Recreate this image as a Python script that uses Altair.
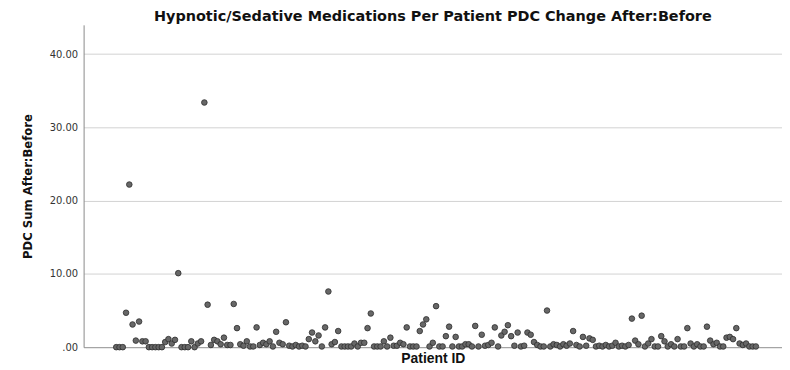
import altair as alt
import pandas as pd

# PDC Sum After:Before per patient, in patient order
pdc_values = [
    0.0, 0.0, 0.0, 4.7, 22.2, 3.1, 0.9, 3.5, 0.8, 0.8,
    0.0, 0.0, 0.0, 0.0, 0.0, 0.7, 1.1, 0.5, 1.0, 10.1,
    0.0, 0.0, 0.0, 0.8, 0.0, 0.5, 0.8, 33.4, 5.8, 0.3,
    1.0, 0.8, 0.4, 1.3, 0.3, 0.3, 5.9, 2.6, 0.4, 0.2,
    0.8, 0.1, 0.1, 2.7, 0.3, 0.6, 0.4, 0.8, 0.1, 2.1,
    0.6, 0.4, 3.4, 0.2, 0.1, 0.3, 0.1, 0.2, 0.1, 1.1,
    2.0, 0.8, 1.6, 0.1, 2.7, 7.6, 0.4, 0.7, 2.2, 0.1,
    0.1, 0.1, 0.1, 0.5, 0.1, 0.6, 0.6, 2.6, 4.6, 0.1,
    0.1, 0.1, 0.8, 0.1, 1.3, 0.2, 0.2, 0.6, 0.4, 2.7,
    0.1, 0.1, 0.1, 2.2, 3.1, 3.8, 0.1, 0.6, 5.6, 0.1,
    0.1, 1.5, 2.8, 0.1, 1.4, 0.1, 0.1, 0.4, 0.4, 0.1,
    2.9, 0.1, 1.7, 0.2, 0.3, 0.6, 2.7, 0.1, 1.6, 2.1,
    3.0, 1.5, 0.2, 2.0, 0.1, 0.2, 2.0, 1.7, 0.7, 0.3,
    0.1, 0.1, 5.0, 0.1, 0.4, 0.3, 0.1, 0.4, 0.2, 0.5,
    2.2, 0.3, 0.1, 1.4, 0.2, 1.2, 1.0, 0.1, 0.2, 0.1,
    0.3, 0.1, 0.2, 0.6, 0.1, 0.2, 0.1, 0.3, 3.9, 0.9,
    0.4, 4.3, 0.1, 0.5, 1.1, 0.1, 0.1, 1.5, 0.8, 0.1,
    0.4, 0.1, 1.1, 0.1, 0.1, 2.6, 0.5, 0.1, 0.4, 0.1,
    0.1, 2.8, 0.9, 0.4, 0.6, 0.1, 0.1, 1.3, 1.4, 1.1,
    2.6, 0.5, 0.3, 0.5, 0.1, 0.1, 0.1,
]
patient_ids = list(range(1, len(pdc_values) + 1))
y_ticks = [0, 10, 20, 30, 40]

df = pd.DataFrame({"Patient ID": patient_ids, "PDC": pdc_values})

chart = (
    alt.Chart(df)
    .mark_circle(size=32, color="#676767", stroke="#2e2e2e", strokeWidth=0.8, opacity=1)
    .encode(
        x=alt.X(
            "Patient ID:Q",
            scale=alt.Scale(domain=[-9, len(pdc_values) + 8], nice=False, zero=False),
            axis=alt.Axis(
                title="Patient ID",
                labels=False,
                ticks=False,
                grid=False,
                domainColor="#9a9a9a",
                titleFont="Liberation Sans",
                titleFontSize=14,
                titleFontWeight="bold",
                titleColor="#111111",
                titlePadding=4,
            ),
        ),
        y=alt.Y(
            "PDC:Q",
            scale=alt.Scale(domain=[0, 44], nice=False),
            axis=alt.Axis(
                title="PDC Sum After:Before",
                values=y_ticks,
                labelExpr="datum.value == 0 ? '.00' : format(datum.value, '.2f')",
                ticks=False,
                grid=True,
                gridColor="#d2d2d2",
                domainColor="#8a8a8a",
                labelFont="DejaVu Sans",
                labelFontSize=10,
                labelColor="#333333",
                labelPadding=6,
                titleFont="'Liberation Sans Narrow', 'DejaVu Sans Condensed', Roboto, sans-serif",
                titleFontSize=13,
                titleFontWeight="bold",
                titleColor="#111111",
                titlePadding=15,
            ),
        ),
    )
    .properties(
        width=702,
        height=324,
        padding={"left": 13, "top": 0, "right": 0, "bottom": 0},
        title=alt.TitleParams(
            text="Hypnotic/Sedative Medications Per Patient PDC Change After:Before",
            font="DejaVu Sans",
            fontSize=14.5,
            fontWeight="bold",
            color="#111111",
            anchor="middle",
            frame="group",
            offset=0,
        ),
    )
    .configure_view(stroke="transparent")
)

chart.save("out.html", embed_options={"renderer": "svg", "actions": False})
